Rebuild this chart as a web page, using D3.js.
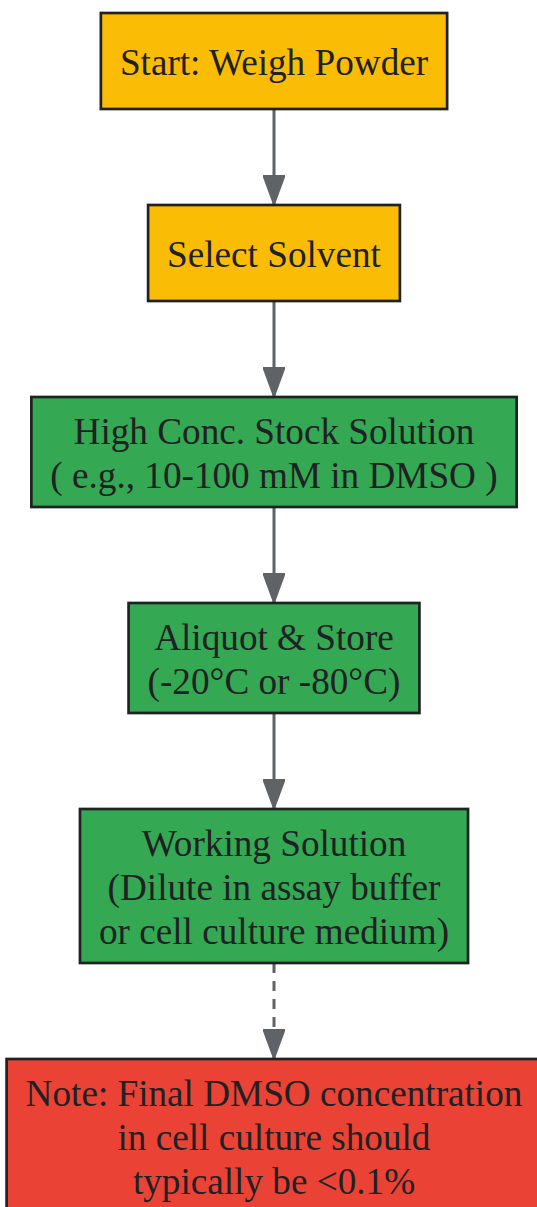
<!DOCTYPE html>
<html>
<head>
<meta charset="utf-8">
<script src="https://cdn.jsdelivr.net/npm/d3@7"></script>
<style>
  html, body { margin: 0; padding: 0; background: #fff; }
  svg { display: block; }
</style>
</head>
<body>
<div id="chart"></div>
<script>
// flowchart data //
var nodeLabels = [
    ["Start: Weigh Powder"],
    ["Select Solvent"],
    ["High Conc. Stock Solution", "( e.g., 10-100 mM in DMSO )"],
    ["Aliquot & Store", "(-20°C or -80°C)"],
    ["Working Solution", "(Dilute in assay buffer", "or cell culture medium)"],
    ["Note: Final DMSO concentration", "in cell culture should", "typically be <0.1%"]
];
var nodeColors = ["#FBBC05", "#FBBC05", "#34A853", "#34A853", "#34A853", "#EA4335"];
var edgeFrom = [0, 1, 2, 3, 4];
var edgeTo = [1, 2, 3, 4, 5];
var edgeDashed = [false, false, false, false, true];

// layout settings
    var width = 537;
    var height = 1207;
    var centerX = 274;
    var topY = 13;
    var gap = 96;
    var fontSize = 37.2;
    var lineHeight = 44;
    var padX = 19;
    var minHeight = 96;

    var svg = d3.select("#chart")
            .append("svg")
            .attr("width", width)
            .attr("height", height);

    var defs = svg.append("defs");
    defs.append("marker")
        .attr("id", "arrow")
        .attr("viewBox", "0 0 30 22")
        .attr("refX", 30)
        .attr("refY", 11)
        .attr("markerWidth", 30)
        .attr("markerHeight", 22)
        .attr("markerUnits", "userSpaceOnUse")
        .attr("orient", "auto")
        .append("path")
        .attr("d", "M0,0 L30,11 L0,22 Z")
        .style("fill", "#5F6368")
        .style("stroke", "#5F6368")
        .style("stroke-width", 1.5);

// measure text so boxes fit their labels
    var measure = svg.append("text")
            .style("font-family", "'Liberation Serif', 'Times New Roman', serif")
            .style("font-size", fontSize + "px");

    var nodes = nodeLabels.map(function(lines, i){
        var w = d3.max(lines, function(l){
            measure.text(l);
            return measure.node().getComputedTextLength();
        });
        return {
            id: i,
            lines: lines,
            color: nodeColors[i],
            w: w + 2 * padX,
            h: Math.max(minHeight, lines.length * lineHeight + 22)
        };
    });
    measure.remove();

    // stack nodes top to bottom
    var y = topY;
    nodes.forEach(function(n){
        n.y0 = y;
        n.y1 = y + n.h;
        y = n.y1 + gap;
    });

    var yScale = d3.scaleLinear().domain([0, height]).range([0, height]);

    var edges = edgeFrom.map(function(f, i){
        return {source: nodes[f], target: nodes[edgeTo[i]], dashed: edgeDashed[i]};
    });

    svg.selectAll("line.edge")
        .data(edges)
        .enter()
        .append("line")
        .attr("class", "edge")
        .attr("x1", centerX)
        .attr("x2", centerX)
        .attr("y1", function(d){ return yScale(d.source.y1); })
        .attr("y2", function(d){ return yScale(d.target.y0); })
        .attr("marker-end", "url(#arrow)")
        .style("stroke", "#5F6368")
        .style("stroke-width", 3)
        .style("stroke-dasharray", function(d){ return d.dashed ? "10,8" : null; });

    var g = svg.selectAll("g.node")
            .data(nodes)
            .enter()
            .append("g")
            .attr("class", "node");

    g.append("rect")
        .attr("x", function(d){ return centerX - d.w / 2; })
        .attr("y", function(d){ return yScale(d.y0); })
        .attr("width", function(d){ return d.w; })
        .attr("height", function(d){ return d.h; })
        .style("fill", function(d){ return d.color; })
        .style("stroke", "#202124")
        .style("stroke-width", 2.7);

    g.each(function(d){
        var cy = (d.y0 + d.y1) / 2;
        var n = d.lines.length;
        d3.select(this).selectAll("text")
            .data(d.lines)
            .enter()
            .append("text")
            .attr("x", centerX)
            .attr("y", function(l, i){ return yScale(cy + (i - (n - 1) / 2) * lineHeight + 13.5); })
            .attr("text-anchor", "middle")
            .style("font-family", "'Liberation Serif', 'Times New Roman', serif")
            .style("font-size", fontSize + "px")
            .style("fill", "#202124")
            .text(function(l){ return l; });
    });
</script>
</body>
</html>
